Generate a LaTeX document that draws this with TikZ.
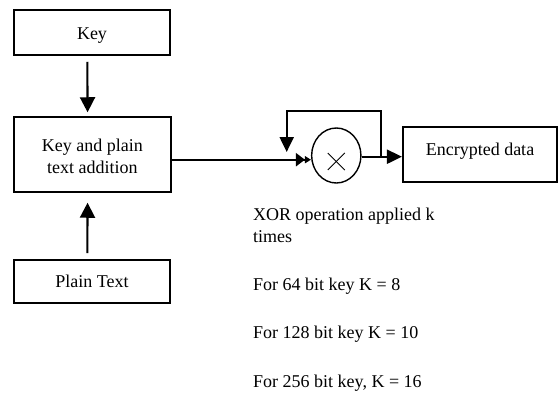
\documentclass[tikz,border=0pt]{standalone}
\usepackage{fontspec}
\setmainfont{Liberation Serif}
\usetikzlibrary{arrows.meta,shapes.geometric,calc}
\begin{document}
\begin{tikzpicture}[x=1pt,y=-1pt,
  every node/.style={font=\fontsize{18}{22.5}\selectfont},
  box/.style={draw,line width=2.1pt,inner sep=0pt,align=center},
  conn/.style={line width=2.1pt},
  bigtip/.style={-{Triangle[length=15pt,width=15pt]}},
  txt/.style={anchor=base west,inner sep=0pt}]
\useasboundingbox (0,0) rectangle (558,392);
\node[box,minimum width=156pt,minimum height=45pt,text height=14pt,text depth=1pt] (key) at (92,32.5) {Key};
\node[box,minimum width=156.7pt,minimum height=75pt] (mid) at (92.3,154.2) {\rule{0pt}{17pt}Key and plain\\text addition};
\node[box,minimum width=156pt,minimum height=43.3pt,text height=14pt,text depth=2pt] (plain) at (92,281.7) {Plain Text};
\node[box,minimum width=154pt,minimum height=54.4pt,text height=12pt,text depth=11pt] (enc) at (480,154.5) {Encrypted data};
\node[draw,ellipse,line width=1.4pt,minimum width=49.3pt,minimum height=55pt,inner sep=0pt] (op) at (336.3,155.5) {};
\draw[line width=0.9pt] ($(op.center)+(-8.5,-2.5)$) -- ($(op.center)+(8.5,14.5)$);
\draw[line width=0.9pt] ($(op.center)+(-8.5,14.5)$) -- ($(op.center)+(8.5,-2.5)$);
% connectors
\draw[conn,bigtip,shorten <=5.7pt,shorten >=3.4pt] ([xshift=-4.7pt]key.south) -- ([xshift=-4.7pt]mid.north);
\draw[conn,bigtip,shorten <=6pt,shorten >=10pt] ([xshift=-4.7pt]plain.north) -- ([xshift=-4.7pt]mid.south);
\draw[conn,-{Triangle[length=9pt,width=13pt] Triangle[length=6pt,width=7pt]}] ([yshift=-5.5pt]mid.east) -- ([yshift=-5.5pt]mid.east -| op.west);
\draw[conn,-{Triangle[length=15pt,width=14pt]}] ([yshift=-1.2pt]op.east) -- ([yshift=-1.2pt]op.east -| enc.west);
\coordinate (lp) at (380.7,156.7);
\coordinate (lt) at (286.7,152);
\draw[conn,-{Triangle[length=15pt,width=14pt]}] (lp) -- ++(0,-45.7) -| (lt);
% text
\node[txt] (t1) at (253,220.7) {XOR operation applied k};
\node[txt] (t2) at (253,242) {times};
\node[txt] (t3) at (253,290) {For 64 bit key K = 8};
\node[txt] (t4) at (253,338) {For 128 bit key K = 10};
\node[txt] (t5) at (253,387) {For 256 bit key, K = 16};
\end{tikzpicture}
\end{document}
